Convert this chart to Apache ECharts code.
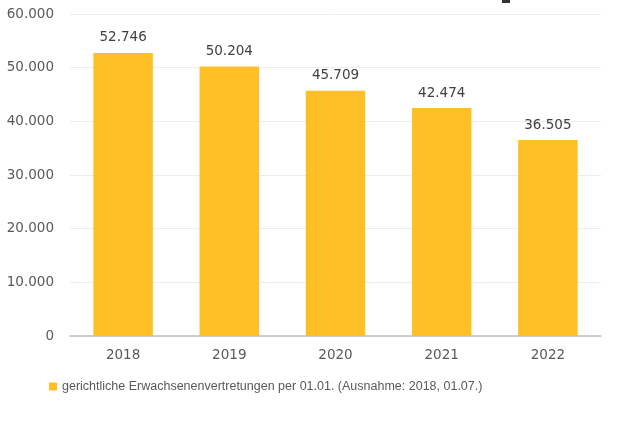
<!DOCTYPE html>
<html>
<head>
<meta charset="utf-8">
<script src="https://cdn.jsdelivr.net/npm/echarts@6/dist/echarts.min.js"></script>
<style>
  html, body { margin: 0; padding: 0; background: #fff; }
  #chart { width: 640px; height: 425px; }
</style>
</head>
<body>
<div id="chart"></div>
<script>
var years = ['2018', '2019', '2020', '2021', '2022'];
var vertretungen = [52746, 50204, 45709, 42474, 36505];
var seriesName = 'gerichtliche Erwachsenenvertretungen per 01.01. (Ausnahme: 2018, 01.07.)';

// deutsche Tausendertrennung mit Punkt
function fmt(v) {
  return String(v).replace(/\B(?=(\d{3})+(?!\d))/g, '.');
}

var myChart = echarts.init(document.getElementById('chart'));
myChart.setOption({
  animation: false,
  textStyle: { fontFamily: 'DejaVu Sans' },
  grid: { left: 70, right: 39, top: 14, bottom: 89 },
  legend: {
    left: 44,
    top: 375,
    itemWidth: 8,
    itemHeight: 8,
    itemGap: 6,
    icon: 'rect',
    textStyle: { color: '#595959', fontSize: 12.5, fontFamily: 'Liberation Sans' },
    data: [seriesName]
  },
  xAxis: {
    type: 'category',
    data: years,
    axisLine: { lineStyle: { color: '#bfbfbf', width: 1.5 } },
    axisTick: { show: false },
    axisLabel: { color: '#595959', fontSize: 13.5, margin: 12 }
  },
  yAxis: {
    type: 'value',
    min: 0,
    max: 60000,
    interval: 10000,
    axisLine: { show: false },
    axisTick: { show: false },
    splitLine: { lineStyle: { color: '#ececec' } },
    axisLabel: { color: '#595959', fontSize: 13.5, margin: 16, formatter: fmt }
  },
  series: [{
    name: seriesName,
    type: 'bar',
    data: vertretungen,
    barCategoryGap: '44%',
    itemStyle: { color: '#FEBF27' },
    label: {
      show: true,
      position: 'top',
      distance: 8,
      color: '#404040',
      fontSize: 13.5,
      formatter: function (p) { return fmt(p.value); }
    }
  }],
  graphic: [{
    type: 'rect',
    shape: { x: 502, y: 0, width: 8, height: 3 },
    style: { fill: '#333' }
  }]
});
</script>
</body>
</html>
